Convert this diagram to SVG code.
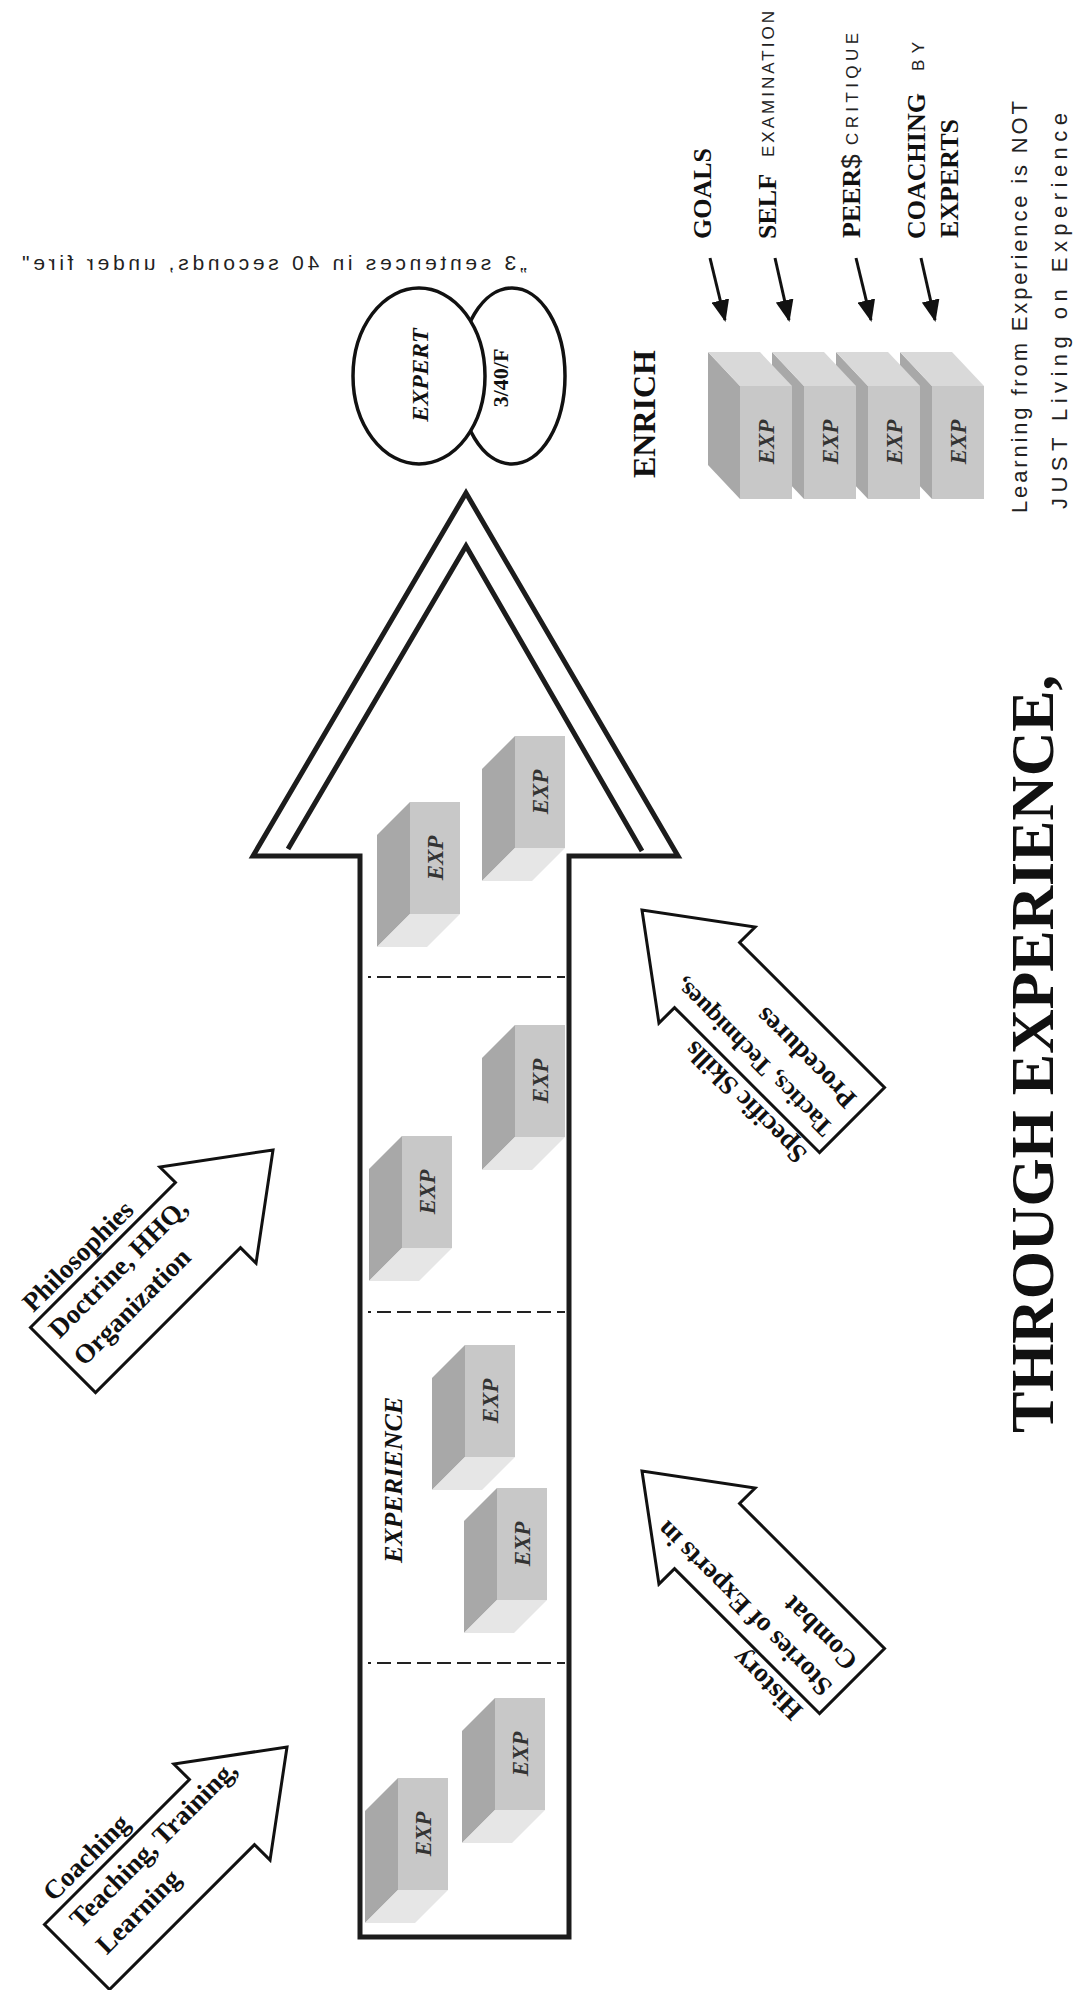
<svg xmlns="http://www.w3.org/2000/svg" width="1087" height="1990" viewBox="0 0 1087 1990">
<style>
.ol{fill:#fff;stroke:#1c1c1c;stroke-width:5;stroke-linejoin:miter;stroke-miterlimit:10}
.ch{fill:none;stroke:#1c1c1c;stroke-width:5;stroke-linejoin:miter;stroke-miterlimit:10}
.ba{fill:#fff;stroke:#111;stroke-width:3;stroke-linejoin:miter;stroke-miterlimit:10}
.dash{stroke:#222;stroke-width:2.2;stroke-dasharray:14 6;stroke-dashoffset:11;fill:none}
.sb{font-family:"Liberation Serif","Times New Roman",serif;font-weight:bold;fill:#111}
.it{font-style:italic}
.exp{font-family:"Liberation Serif","Times New Roman",serif;font-weight:bold;font-style:italic;font-size:23px;fill:#333}
.hw{font-family:"Liberation Sans",Arial,sans-serif;fill:#222}
.dk{fill:#a8a8a8}.md{fill:#c8c8c8}.lt{fill:#e6e6e6}.tp{fill:#d9d9d9}
.ell{fill:#fff;stroke:#111;stroke-width:3.5}
.con{stroke:#111;stroke-width:3;fill:none}
.bt{font-size:27px}
</style>
<defs>
<g id="bxA"><path class="dk" d="M0,0 L-33,33 L-33,145 L0,112 Z"/><path class="lt" d="M0,112 L50,112 L17,145 L-33,145 Z"/><rect class="md" x="0" y="0" width="50" height="112"/></g>
<g id="bxB"><path class="dk" d="M0,0 L-32,-34 L-32,79 L0,113 Z"/><path class="tp" d="M0,0 L52,0 L20,-34 L-32,-34 Z"/><rect class="md" x="0" y="0" width="52" height="113"/></g>
<marker id="ah" viewBox="0 0 22 18" refX="20" refY="9" markerWidth="22" markerHeight="18" markerUnits="userSpaceOnUse" orient="auto"><path d="M0,0 L22,9 L0,18 Z" fill="#111"/></marker>
</defs>
<rect width="1087" height="1990" fill="#fff"/>

<g id="big-arrow">
<path class="ol" d="M360,1937 L360,856 L253,856 L466,493 L678,856 L569,856 L569,1937 Z"/>
<path class="ch" d="M288,849 L466,546 L642,851"/>
<line class="dash" x1="368" y1="977" x2="565" y2="977"/>
<line class="dash" x1="368" y1="1312" x2="565" y2="1312"/>
<line class="dash" x1="368" y1="1663" x2="565" y2="1663"/>
<text class="sb it" font-size="26" transform="translate(402,1480) rotate(-90)" text-anchor="middle">EXPERIENCE</text>
</g>

<g id="exp-box-1"><use href="#bxA" x="398" y="1778"/><text class="exp" transform="translate(430.5,1834) rotate(-90)" text-anchor="middle">EXP</text></g>
<g id="exp-box-2"><use href="#bxA" x="495" y="1698"/><text class="exp" transform="translate(527.5,1754) rotate(-90)" text-anchor="middle">EXP</text></g>
<g id="exp-box-3"><use href="#bxA" x="465" y="1345"/><text class="exp" transform="translate(497.5,1401) rotate(-90)" text-anchor="middle">EXP</text></g>
<g id="exp-box-4"><use href="#bxA" x="497" y="1488"/><text class="exp" transform="translate(529.5,1544) rotate(-90)" text-anchor="middle">EXP</text></g>
<g id="exp-box-5"><use href="#bxA" x="402" y="1136"/><text class="exp" transform="translate(434.5,1192) rotate(-90)" text-anchor="middle">EXP</text></g>
<g id="exp-box-6"><use href="#bxA" x="515" y="1025"/><text class="exp" transform="translate(547.5,1081) rotate(-90)" text-anchor="middle">EXP</text></g>
<g id="exp-box-7"><use href="#bxA" x="410" y="802"/><text class="exp" transform="translate(442.5,858) rotate(-90)" text-anchor="middle">EXP</text></g>
<g id="exp-box-8"><use href="#bxA" x="515" y="736"/><text class="exp" transform="translate(547.5,792) rotate(-90)" text-anchor="middle">EXP</text></g>

<g id="expert-venn">
<ellipse class="ell" cx="512" cy="376" rx="53" ry="88"/>
<ellipse class="ell" cx="419" cy="376" rx="66" ry="88"/>
<text class="sb it" font-size="24" transform="translate(428,375) rotate(-90)" text-anchor="middle">EXPERT</text>
<text class="sb" font-size="22" transform="translate(508,378) rotate(-90)" text-anchor="middle">3/40/F</text>
</g>

<g id="quote">
<text class="hw" font-size="21" transform="translate(527,270) scale(-1,1)" textLength="505">„3 sentences in 40 seconds, under fire"</text>
</g>

<g id="enrich">
<text class="sb" font-size="32" transform="translate(655,414) rotate(-90)" text-anchor="middle">ENRICH</text>
<g id="enrich-box-4"><use href="#bxB" x="932" y="386"/><text class="exp" transform="translate(965.5,442) rotate(-90)" text-anchor="middle">EXP</text></g>
<g id="enrich-box-3"><use href="#bxB" x="868" y="386"/><text class="exp" transform="translate(901.5,442) rotate(-90)" text-anchor="middle">EXP</text></g>
<g id="enrich-box-2"><use href="#bxB" x="804" y="386"/><text class="exp" transform="translate(837.5,442) rotate(-90)" text-anchor="middle">EXP</text></g>
<g id="enrich-box-1"><use href="#bxB" x="740" y="386"/><text class="exp" transform="translate(773.5,442) rotate(-90)" text-anchor="middle">EXP</text></g>
</g>

<g id="enrich-labels">
<text class="sb" font-size="26" transform="translate(711,239) rotate(-90)">GOALS</text>
<text class="sb" font-size="26" transform="translate(776,239) rotate(-90)">SELF</text>
<text class="hw" font-size="17" transform="translate(774,157) rotate(-90)" textLength="146">EXAMINATION</text>
<text class="sb" font-size="26" transform="translate(860,238) rotate(-90)">PEER<tspan class="hw" font-weight="normal">$</tspan></text>
<text class="hw" font-size="17" transform="translate(858,145) rotate(-90)" textLength="112">CRITIQUE</text>
<text class="sb" font-size="26" transform="translate(925,239) rotate(-90)">COACHING</text>
<text class="hw" font-size="17" transform="translate(924,71) rotate(-90)" textLength="29">BY</text>
<text class="sb" font-size="26" transform="translate(958,238) rotate(-90)">EXPERTS</text>
</g>

<g id="enrich-note">
<text class="hw" font-size="22" transform="translate(1027,513) rotate(-90)" textLength="412">Learning from Experience is NOT</text>
<text class="hw" font-size="22" transform="translate(1067,509) rotate(-90)" textLength="396">JUST Living on Experience</text>
</g>

<g id="connectors">
<line class="con" x1="710" y1="258" x2="725" y2="320" marker-end="url(#ah)"/>
<line class="con" x1="775" y1="258" x2="789" y2="320" marker-end="url(#ah)"/>
<line class="con" x1="856" y1="258" x2="871" y2="320" marker-end="url(#ah)"/>
<line class="con" x1="921" y1="258" x2="935" y2="320" marker-end="url(#ah)"/>
</g>

<g id="arrow-coaching" transform="translate(77,1957) rotate(-45)">
<path class="ba" d="M0,-46 H205 V-68 L297,0 L205,68 V46 H0 Z"/>
<text class="sb bt" x="22" y="-55">Coaching</text>
<text class="sb bt" x="22" y="-17">Teaching, Training,</text>
<text class="sb bt" x="22" y="20">Learning</text>
</g>

<g id="arrow-philosophies" transform="translate(63,1360) rotate(-45)">
<path class="ba" d="M0,-46 H205 V-68 L297,0 L205,68 V46 H0 Z"/>
<text class="sb bt" x="12" y="-54">Philosophies</text>
<text class="sb bt" x="12" y="-17">Doctrine, HHQ,</text>
<text class="sb bt" x="10" y="20">Organization</text>
</g>

<g id="arrow-history" transform="translate(852,1681) rotate(-135)">
<path class="ba" d="M0,-46 H205 V-68 L297,0 L205,68 V46 H0 Z"/>
<text class="sb bt" x="14" y="-54">History</text>
<text class="sb bt" x="10" y="-16">Stories of Experts in</text>
<text class="sb bt" x="10" y="20">Combat</text>
</g>

<g id="arrow-skills" transform="translate(852,1120) rotate(-135)">
<path class="ba" d="M0,-46 H205 V-68 L297,0 L205,68 V46 H0 Z"/>
<text class="sb bt" x="8" y="-54">Specific Skills</text>
<text class="sb" font-size="25" x="8" y="-17">Tactics, Techniques,</text>
<text class="sb bt" x="12" y="20">Procedures</text>
</g>

<g id="title">
<text class="sb" font-size="62" transform="translate(1053,1433) rotate(-90)" textLength="758">THROUGH EXPERIENCE,</text>
</g>
</svg>
